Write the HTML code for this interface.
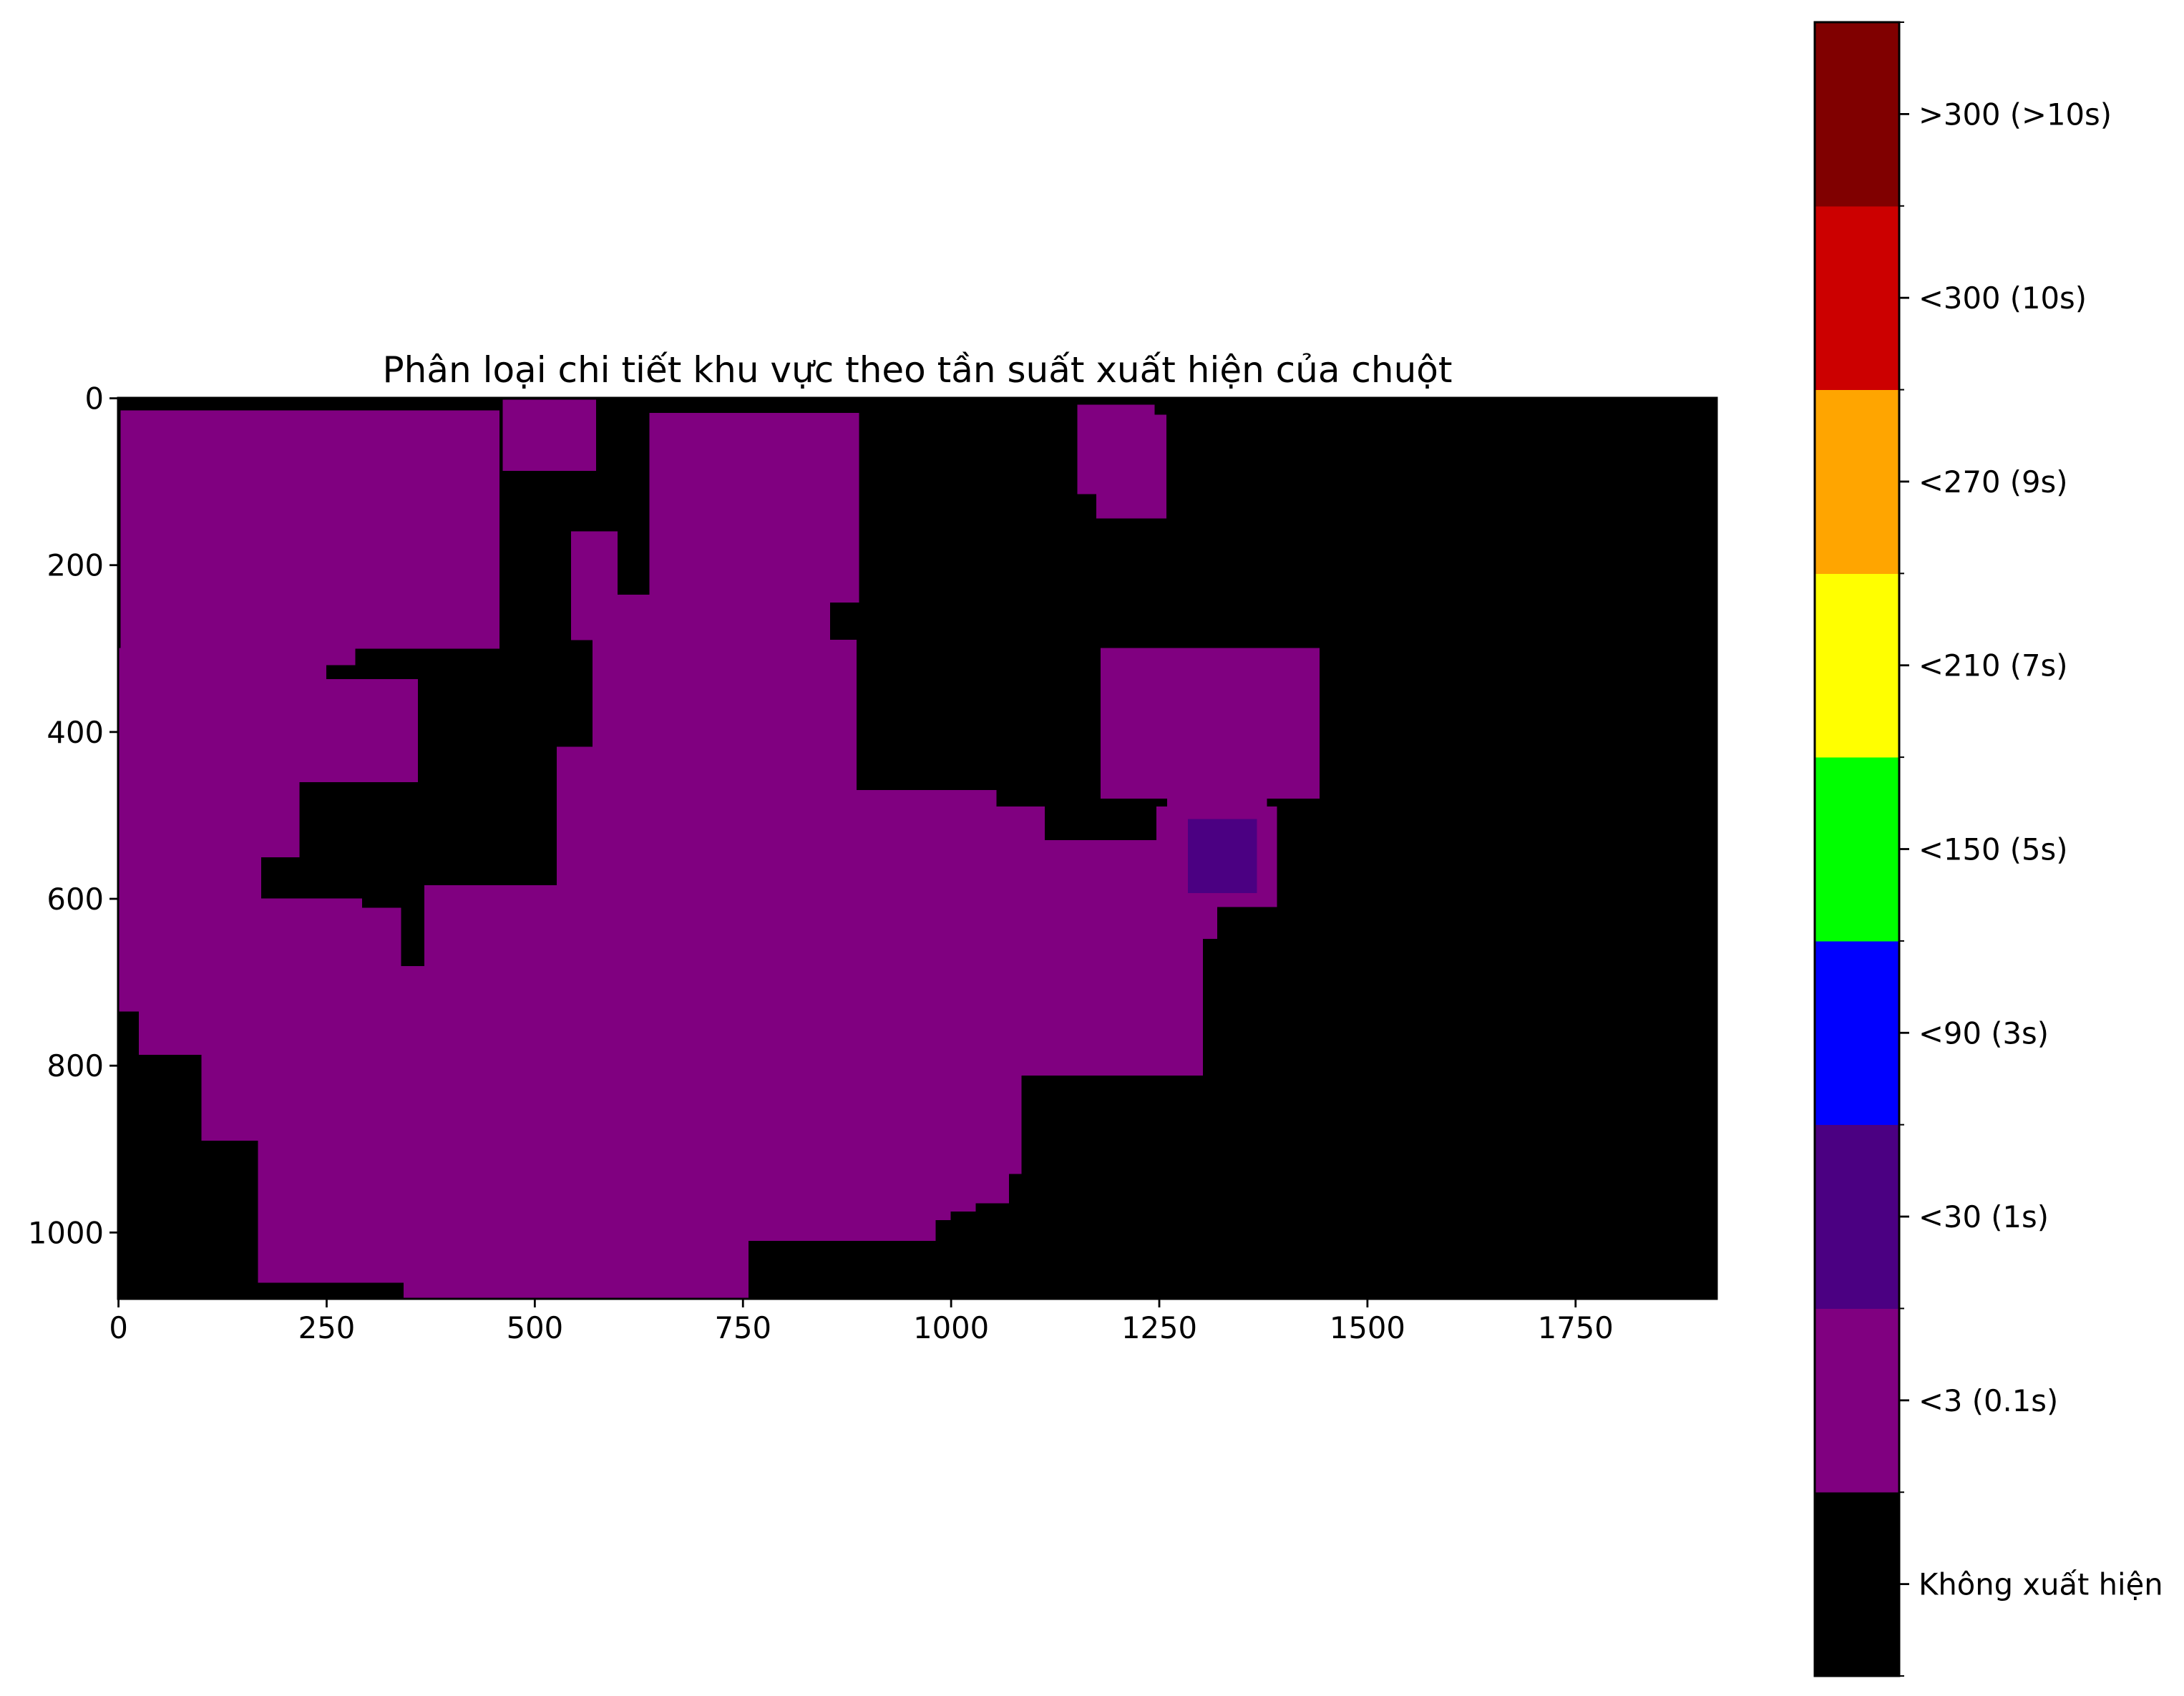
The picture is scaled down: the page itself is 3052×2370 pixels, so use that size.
<!DOCTYPE html>
<html><head><meta charset="utf-8">
<style>
html,body{margin:0;padding:0;background:#fff;}
svg{display:block;font-family:"DejaVu Sans","Liberation Sans",sans-serif;}
#plot rect,#cbar rect{shape-rendering:crispEdges;}
</style></head>
<body>
<svg id="fig" width="3052" height="2370" viewBox="0 0 3052 2370" xmlns="http://www.w3.org/2000/svg">
<rect width="3052" height="2370" fill="#fff"/>
<text x="1282" y="534" font-size="50" text-anchor="middle">Phân loại chi tiết khu vực theo tần suất xuất hiện của chuột</text>
<g id="plot"></g>
<g id="cbar"></g>
</svg>
<script>
const xTicks = [0,250,500,750,1000,1250,1500,1750];
const yTicks = [0,200,400,600,800,1000];
const classLabels = ["Không xuất hiện","<3 (0.1s)","<30 (1s)","<90 (3s)","<150 (5s)","<210 (7s)","<270 (9s)","<300 (10s)",">300 (>10s)"];
const classColors = ["#000000","#800080","#4b0082","#0000ff","#00ff00","#ffff00","#ffa500","#cc0000","#800000"];
// region rectangles: x0, y0, x1, y1 (image pixels), class index
const regionX0 = [3,0,0,0,0,0,0,0,368,368,0,25,100,100,168,168,168,168,168,168,343,570,527,570,527,527,544,600,638,462,1152,1175,1180,1260,1247,1247,1285];
const regionY0 = [15,300,320,337,460,550,600,611,584,648,681,735,787,812,890,930,965,975,985,1010,1060,290,418,470,490,530,160,236,18,2,8,20,300,480,490,610,505];
const regionX1 = [458,285,250,360,218,172,293,340,1247,1303,1303,1303,1303,1085,1085,1070,1030,1000,982,757,757,887,570,1055,1113,1247,600,855,890,574,1245,1259,1443,1380,1392,1320,1368];
const regionY1 = [300,320,337,460,550,600,611,681,648,681,735,787,812,890,930,965,975,985,1010,1060,1080,470,584,490,530,584,290,290,245,87,115,144,480,490,610,648,593];
const regionClass = [1,1,1,1,1,1,1,1,1,1,1,1,1,1,1,1,1,1,1,1,1,1,1,1,1,1,1,1,1,1,1,1,1,1,1,1,2];

const NS="http://www.w3.org/2000/svg";
const L=165,T=556,R=2399,B=1815,W=1920,H=1080;
const sx=v=>L+(v+0.5)*(R-L)/W;
const sy=v=>T+(v+0.5)*(B-T)/H;
function mk(tag,attrs,parent){const e=document.createElementNS(NS,tag);for(const k in attrs)e.setAttribute(k,attrs[k]);parent.appendChild(e);return e;}
const plot=document.getElementById('plot');
const bg=mk('rect',{x:L,y:T,width:R-L,height:B-T,fill:classColors[0]},plot);


for(let i=0;i<regionX0.length;i++){
  const r=mk('rect',{x:sx(regionX0[i]-0.5),y:sy(regionY0[i]-0.5),width:sx(regionX1[i]-0.5)-sx(regionX0[i]-0.5),height:sy(regionY1[i]-0.5)-sy(regionY0[i]-0.5)+0.6,fill:classColors[regionClass[i]]},plot);
  
  
}
const sp=mk('rect',{x:L,y:T,width:R-L,height:B-T,fill:'none',stroke:'#000','stroke-width':2.8},plot);


xTicks.forEach(v=>{
  const x=sx(v);
  const t=mk('line',{x1:x,y1:B,x2:x,y2:B+12,stroke:'#000','stroke-width':2.8},plot);
  
  
  const s=mk('text',{x:x,y:B+55,'font-size':41.7,'text-anchor':'middle'},plot);
  s.textContent=v;
  
  
});
yTicks.forEach(v=>{
  const y=sy(v);
  const t=mk('line',{x1:L-12,y1:y,x2:L,y2:y,stroke:'#000','stroke-width':2.8},plot);
  
  
  const s=mk('text',{x:L-20,y:y+15,'font-size':41.7,'text-anchor':'end'},plot);
  s.textContent=v;
  
  
});
// colorbar
const cb=document.getElementById('cbar');
const CL=2536,CR=2654,CT=31,CB=2342,n=classLabels.length,seg=(CB-CT)/n;
for(let i=0;i<n;i++){
  const y0=CB-(i+1)*seg;
  const r=mk('rect',{x:CL,y:y0,width:CR-CL,height:seg+0.5,fill:classColors[i]},cb);
  
  
  const yc=y0+seg/2;
  const t=mk('line',{x1:CR,y1:yc,x2:CR+14,y2:yc,stroke:'#000','stroke-width':2.8},cb);
  
  
  const s=mk('text',{x:CR+27,y:yc+15,'font-size':41.7},cb);
  s.textContent=classLabels[i];
  
  
}
for(let i=0;i<=n;i++){
  const y=CB-i*seg;
  const t=mk('line',{x1:CR,y1:y,x2:CR+7,y2:y,stroke:'#000','stroke-width':2},cb);
  
  
}
const cf=mk('rect',{x:CL,y:CT,width:CR-CL,height:CB-CT,fill:'none',stroke:'#000','stroke-width':2.8},cb);


</script>
</body></html>
